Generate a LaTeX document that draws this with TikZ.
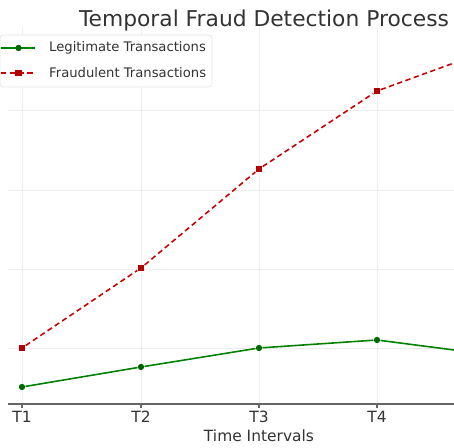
\documentclass[tikz,border=0pt]{standalone}
\usepackage{fontspec}
\setmainfont{DejaVu Sans}
\usetikzlibrary{positioning}
\begin{document}
\begin{tikzpicture}[x=0.02cm,y=-0.02cm]
    \tikzset{>=latex}
    \tikzset{legit/.style={green!50!black,line width=0.9pt},
      fraud/.style={red!80!black,line width=0.9pt,dash pattern=on 3pt off 2pt},
      gridline/.style={black!7,line width=0.5pt},
      gdot/.style={circle,fill=green!40!black,inner sep=0pt,minimum size=3.6pt},
      fsq/.style={rectangle,fill=red!70!black,inner sep=0pt,minimum size=3.8pt},
      ticklab/.style={font=\fontsize{8.8}{10}\selectfont,text=black!80}}
    \useasboundingbox (0,0) rectangle (454,448);
    \def\base{404}

    % grid
    \foreach \y in {110,190,269,348}
      \draw[gridline] (8,\y) -- (454,\y);
    \foreach \x in {22,141,259,377}
      \draw[gridline] (\x,28) -- (\x,\base);

    % data points
    \foreach \i/\x/\g/\f in {1/22/387/348,2/141/367/268,3/259/348/169,4/377/340/91} {
      \node[gdot] (g\i) at (\x,\g) {};
      \node[fsq] (f\i) at (\x,\f) {};
      \coordinate (t\i) at (\x,\base);
      \draw[black!60,line width=0.6pt] (t\i) -- ++(0,4) node[ticklab,below=-2pt] (lab\i) {T\i};
    }
    \coordinate (g5) at (454,350);
    \coordinate (f5) at (454,63);
    \draw[legit] (g1) -- (g2) -- (g3) -- (g4) -- (g5);
    \draw[fraud] (f1) -- (f2) -- (f3) -- (f4) -- (f5);

    % axis
    \draw[black!60,line width=1pt] (8,\base) -- (454,\base);
    \node[ticklab] (xlab) at (259,436) {Time Intervals};
    \node[font=\fontsize{12.4}{15}\selectfont,text=black!80] (title) at (264,20) {Temporal Fraud Detection Process};

    % legend
    \draw[black!10,fill=white,rounded corners=2pt] (0,35) rectangle (212,87);
    \coordinate (la) at (1,48);
    \coordinate (lb) at (35,48);
    \coordinate (lc) at (1,73);
    \coordinate (ld) at (35,73);
    \draw[legit] (la) -- (lb);
    \draw[fraud] (lc) -- (ld);
    \node[gdot] (lg) at (18.5,48) {};
    \node[fsq] (lf) at (18.5,73) {};
    \node[font=\fontsize{7.5}{9}\selectfont,text=black!80,anchor=west] (leg1) at (43,48) {Legitimate Transactions};
    \node[font=\fontsize{7.5}{9}\selectfont,text=black!80,anchor=west] (leg2) at (43,73) {Fraudulent Transactions};
\end{tikzpicture}
\end{document}
